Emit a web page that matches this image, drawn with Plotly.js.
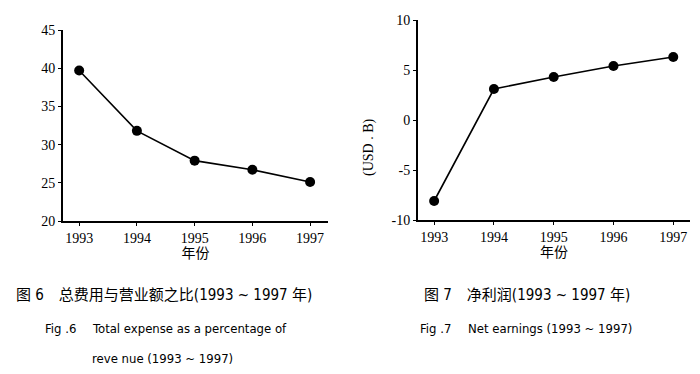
<!DOCTYPE html>
<html>
<head>
<meta charset="utf-8">
<script src="https://cdn.plot.ly/plotly-3.0.1.min.js"></script>
<style>html,body{margin:0;padding:0;background:#fff;}#chart{width:700px;height:374px;}</style>
</head>
<body>
<div id="chart"></div>
<script>
const years = [1993, 1994, 1995, 1996, 1997];
const expensePct = [39.7, 31.8, 27.9, 26.7, 25.1];
const netEarnings = [-8.1, 3.1, 4.3, 5.4, 6.3];
const yearTickLabels = ['1993', '1994', '1995', '1996', '1997'];
const y1Ticks = [20, 25, 30, 35, 40, 45];
const y2Ticks = [-10, -5, 0, 5, 10];
const y2TickLabels = ['-10', '-5', '0', '5', '10'];
const xTitle = '年份';
const y2Title = '(USD . B)';
const captionLeft1 = '图 6　总费用与营业额之比(1993 ~ 1997 年)';
const captionLeft2 = 'Fig .6 　Total expense as a percentage of';
const captionLeft3 = 'reve nue (1993 ~ 1997)';
const captionRight1 = '图 7　净利润(1993 ~ 1997 年)';
const captionRight2 = 'Fig .7 　Net earnings (1993 ~ 1997)';

const FONT = '"Liberation Serif", "Times New Roman", "Noto Sans CJK SC", serif';
const CAPFONT = '"Liberation Sans Narrow", "DejaVu Sans Condensed", "Noto Sans CJK SC", sans-serif';

const lineStyle = {color: '#000', width: 1.6};
const markerStyle = {color: '#000', size: 10};

const traces = [
  {x: years, y: expensePct, xaxis: 'x', yaxis: 'y', mode: 'lines+markers', line: lineStyle, marker: markerStyle, showlegend: false, hoverinfo: 'x+y'},
  {x: years, y: netEarnings, xaxis: 'x2', yaxis: 'y2', mode: 'lines+markers', line: lineStyle, marker: markerStyle, showlegend: false, hoverinfo: 'x+y'}
];

const axBase = {
  showline: true, linecolor: '#000', linewidth: 2, mirror: false,
  showgrid: false, zeroline: false,
  ticks: 'outside', ticklen: 3, tickwidth: 1, tickcolor: '#000',
  tickfont: {family: FONT, size: 14, color: '#000'}
};

const layout = {
  width: 700, height: 374,
  margin: {l: 0, r: 0, t: 0, b: 0},
  paper_bgcolor: '#fff', plot_bgcolor: '#fff',
  font: {family: FONT, color: '#000'},
  xaxis: Object.assign({}, axBase, {
    domain: [63/700, 328/700], range: [1992.72, 1997.31], anchor: 'y',
    tickvals: years, ticktext: yearTickLabels,
    title: {text: xTitle, font: {family: FONT, size: 14, color: '#000'}, standoff: 1}
  }),
  yaxis: Object.assign({}, axBase, {
    domain: [153/374, 344/374], range: [20, 45], anchor: 'x',
    tickvals: y1Ticks
  }),
  xaxis2: Object.assign({}, axBase, {
    domain: [418/700, 690/700], range: [1992.73, 1997.28], anchor: 'y2',
    tickvals: years, ticktext: yearTickLabels,
    title: {text: xTitle, font: {family: FONT, size: 14, color: '#000'}, standoff: 1}
  }),
  yaxis2: Object.assign({}, axBase, {
    domain: [154/374, 354/374], range: [-10, 10], anchor: 'x2',
    tickvals: y2Ticks, ticktext: y2TickLabels
  }),
  annotations: [
    {text: y2Title, textangle: -90, x: 369/700, y: 1 - 147/374, xref: 'paper', yref: 'paper', showarrow: false, xanchor: 'center', yanchor: 'middle', font: {family: FONT, size: 14, color: '#000'}},
    {text: captionLeft1, x: 164/700, y: 1 - 295/374, xref: 'paper', yref: 'paper', showarrow: false, xanchor: 'center', yanchor: 'middle', font: {family: CAPFONT, size: 15, color: '#000'}},
    {text: captionLeft2, x: 166/700, y: 1 - 328/374, xref: 'paper', yref: 'paper', showarrow: false, xanchor: 'center', yanchor: 'middle', font: {family: CAPFONT, size: 13, color: '#000'}},
    {text: captionLeft3, x: 162/700, y: 1 - 358/374, xref: 'paper', yref: 'paper', showarrow: false, xanchor: 'center', yanchor: 'middle', font: {family: CAPFONT, size: 13, color: '#000'}},
    {text: captionRight1, x: 527/700, y: 1 - 295/374, xref: 'paper', yref: 'paper', showarrow: false, xanchor: 'center', yanchor: 'middle', font: {family: CAPFONT, size: 15, color: '#000'}},
    {text: captionRight2, x: 526/700, y: 1 - 328/374, xref: 'paper', yref: 'paper', showarrow: false, xanchor: 'center', yanchor: 'middle', font: {family: CAPFONT, size: 13, color: '#000'}}
  ]
};

Plotly.newPlot('chart', traces, layout, {staticPlot: true, displayModeBar: false});
</script>
</body>
</html>
